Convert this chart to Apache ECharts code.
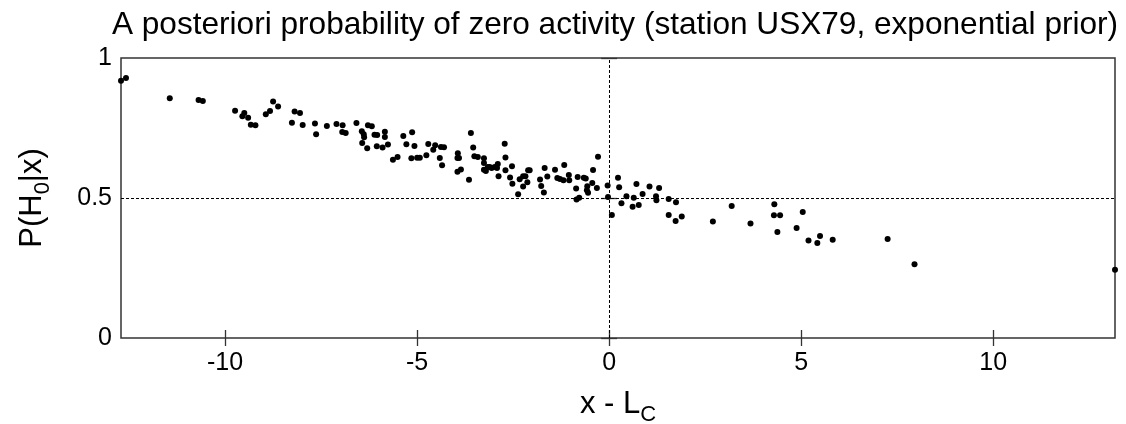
<!DOCTYPE html>
<html>
<head>
<meta charset="utf-8">
<script src="https://cdn.jsdelivr.net/npm/echarts@6/dist/echarts.min.js"></script>
<style>
  html, body { margin: 0; padding: 0; background: #fff; }
  #chart { width: 1126px; height: 424px; }
</style>
</head>
<body>
<div id="chart"></div>
<script>
// x - L_C offsets and posterior P(H0|x)
var xOffset = [
  -12.71, -12.58, -11.44, -10.69, -10.58, -9.74, -9.50, -9.55, -9.40, -9.33,
  -9.21, -8.94, -8.83, -8.75, -8.62, -8.26, -8.19, -8.05, -7.98, -7.66,
  -7.63, -7.35, -7.10, -6.94, -6.95, -6.86, -6.58, -6.44, -6.39, -6.38,
  -6.43, -6.30, -6.28, -6.18, -6.11, -6.04, -6.05, -5.90, -5.84, -5.84,
  -5.76, -5.63, -5.51, -5.36, -5.28, -5.13, -5.07, -5.15, -5.00, -4.93,
  -4.76, -4.71, -4.58, -4.53, -4.38, -4.30, -4.41, -4.35, -3.94, -3.95,
  -3.91, -3.95, -3.86, -3.65, -3.60, -3.54, -3.51, -3.42, -3.26, -3.26,
  -3.26, -3.21, -3.16, -3.11, -3.06, -2.98, -2.90, -2.92, -2.88, -2.72,
  -2.70, -2.70, -2.58, -2.53, -2.52, -2.37, -2.33, -2.24, -2.18, -2.24,
  -2.13, -2.11, -2.07, -1.80, -1.77, -1.70, -1.68, -1.61, -1.41, -1.35,
  -1.28, -1.19, -1.17, -1.05, -1.04, -0.86, -0.82, -0.85, -0.78, -0.66,
  -0.61, -0.57, -0.58, -0.55, -0.44, -0.42, -0.32, -0.29, -0.04, -0.03,
  0.07, 0.23, 0.26, 0.32, 0.45, 0.61, 0.64, 0.71, 0.77, 0.87,
  1.05, 1.22, 1.23, 1.30, 1.55, 1.55, 1.74, 1.73, 1.89, 2.70,
  3.19, 3.68, 4.30, 4.29, 4.45, 4.38, 4.88, 5.04, 5.19, 5.42,
  5.49, 5.82, 7.25, 7.95, 13.17
];
var probH0 = [
  0.919, 0.929, 0.856, 0.850, 0.846, 0.812, 0.804, 0.792, 0.787, 0.762,
  0.760, 0.799, 0.811, 0.845, 0.827, 0.769, 0.809, 0.804, 0.761, 0.766,
  0.728, 0.757, 0.764, 0.760, 0.736, 0.732, 0.768, 0.738, 0.728, 0.717,
  0.696, 0.678, 0.760, 0.756, 0.726, 0.725, 0.685, 0.680, 0.737, 0.718,
  0.691, 0.637, 0.646, 0.721, 0.692, 0.735, 0.686, 0.642, 0.644, 0.644,
  0.653, 0.693, 0.672, 0.688, 0.682, 0.681, 0.643, 0.617, 0.660, 0.643,
  0.643, 0.594, 0.602, 0.565, 0.732, 0.680, 0.649, 0.646, 0.642, 0.625,
  0.601, 0.596, 0.611, 0.611, 0.607, 0.611, 0.621, 0.607, 0.578, 0.694,
  0.645, 0.599, 0.573, 0.613, 0.551, 0.513, 0.567, 0.578, 0.578, 0.541,
  0.556, 0.599, 0.599, 0.566, 0.543, 0.520, 0.607, 0.577, 0.601, 0.571,
  0.568, 0.563, 0.618, 0.582, 0.563, 0.534, 0.575, 0.495, 0.501, 0.572,
  0.570, 0.542, 0.528, 0.519, 0.554, 0.600, 0.536, 0.647, 0.545, 0.504,
  0.439, 0.572, 0.538, 0.481, 0.506, 0.469, 0.501, 0.550, 0.475, 0.514,
  0.541, 0.506, 0.492, 0.536, 0.496, 0.439, 0.485, 0.418, 0.434, 0.416,
  0.471, 0.409, 0.478, 0.438, 0.438, 0.379, 0.393, 0.450, 0.348, 0.339,
  0.364, 0.351, 0.354, 0.263, 0.244
];
var xTicks = [-10, -5, 0, 5, 10];
var xMin = -12.71, xMax = 13.17;
var threshold = 0.5;

var points = [];
for (var i = 0; i < xOffset.length; i++) {
  points.push([xOffset[i], probH0[i]]);
}

var font = '"Liberation Sans", Arial, Helvetica, sans-serif';
var myChart = echarts.init(document.getElementById('chart'), null, {renderer: 'canvas'});

// rich styles for the axis names with subscripts
var nameRich = {
  a: { fontSize: 31, color: '#000', fontFamily: font, lineHeight: 34, verticalAlign: 'top' },
  s: { fontSize: 22, color: '#000', fontFamily: font, lineHeight: 22, padding: [15, 0, 0, 0], verticalAlign: 'top' }
};

var option = {
  animation: false,
  backgroundColor: '#fff',
  textStyle: { fontFamily: font },
  title: {
    text: 'A posteriori probability of zero activity (station USX79, exponential prior)',
    left: 610,
    top: 4,
    textAlign: 'center',
    textStyle: { fontFamily: font, fontSize: 31.6, fontWeight: 'normal', color: '#000' }
  },
  grid: {
    left: 121, right: 11, top: 58, bottom: 86,
    outerBoundsMode: 'none',
    containLabel: false,
    show: true, borderColor: '#333', borderWidth: 1.5
  },
  xAxis: [{
    type: 'value',
    min: xMin, max: xMax,
    axisLine: { show: false },
    splitLine: { show: false },
    axisTick: { show: true, inside: true, length: 8, customValues: xTicks, lineStyle: { color: '#333', width: 1.3 } },
    axisLabel: { customValues: xTicks, fontSize: 25, color: '#000', margin: 13, fontFamily: font },
    name: '{a|x - L}{s|C}',
    nameLocation: 'middle',
    nameGap: 51,
    nameTextStyle: { rich: nameRich }
  }, {
    type: 'value',
    position: 'top',
    min: xMin, max: xMax,
    axisLine: { show: false },
    splitLine: { show: false },
    axisTick: { show: true, inside: true, length: 8, customValues: xTicks, lineStyle: { color: '#333', width: 1.3 } },
    axisLabel: { show: false, customValues: xTicks }
  }],
  yAxis: [{
    type: 'value',
    min: 0, max: 1, interval: 0.5,
    axisLine: { show: false },
    splitLine: { show: false },
    axisTick: { show: true, inside: true, length: 8, lineStyle: { color: '#333', width: 1.3 } },
    axisLabel: { fontSize: 25, color: '#000', margin: 9, fontFamily: font },
    name: '{a|P(H}{s|0}{a||x)}',
    nameLocation: 'middle',
    nameRotate: 90,
    nameGap: 70,
    nameTextStyle: { rich: nameRich }
  }, {
    type: 'value',
    position: 'right',
    min: 0, max: 1, interval: 0.5,
    axisLine: { show: false },
    splitLine: { show: false },
    axisTick: { show: true, inside: true, length: 8, lineStyle: { color: '#333', width: 1.3 } },
    axisLabel: { show: false }
  }],
  series: [{
    type: 'scatter',
    xAxisIndex: 0,
    yAxisIndex: 0,
    data: points,
    symbol: 'circle',
    symbolSize: 6,
    itemStyle: { color: '#000', opacity: 1 },
    markLine: {
      silent: true,
      symbol: ['none', 'none'],
      label: { show: false },
      lineStyle: { color: '#000', type: [3, 2], width: 1 },
      data: [
        { yAxis: threshold },
        { xAxis: 0 }
      ]
    }
  }]
};
myChart.setOption(option);
</script>
</body>
</html>
